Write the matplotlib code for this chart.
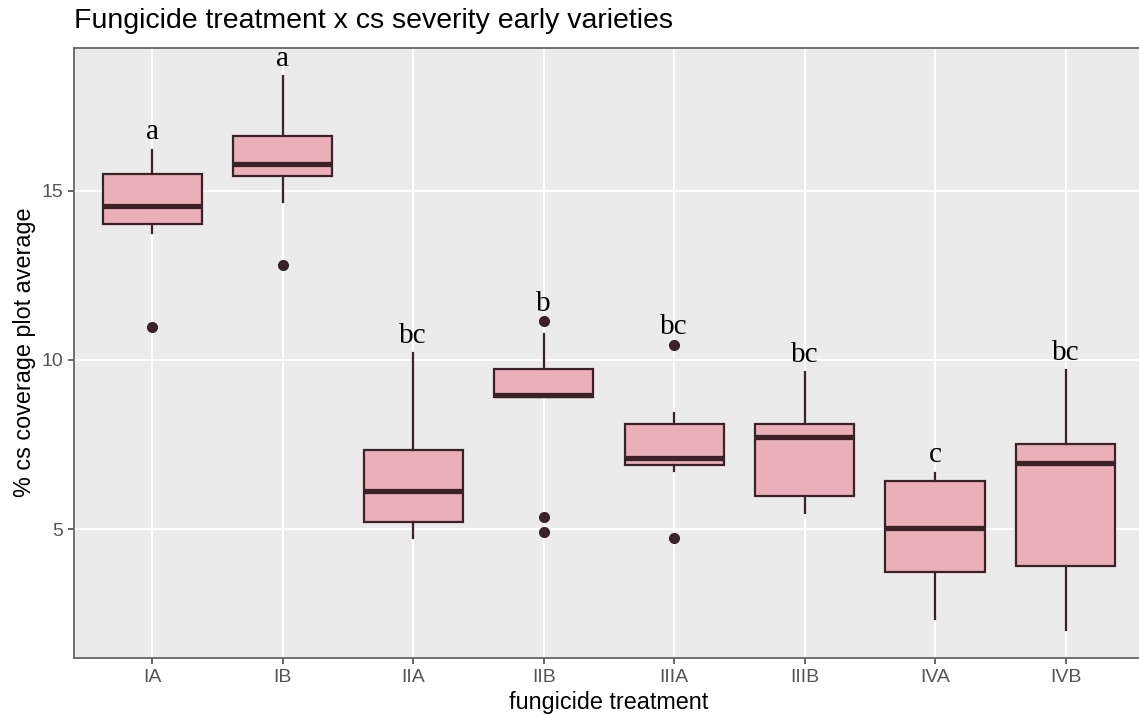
import matplotlib
matplotlib.use("Agg")
import matplotlib.pyplot as plt

# treatment groups and box statistics
treatments = ["IA", "IB", "IIA", "IIB", "IIIA", "IIIB", "IVA", "IVB"]
whisker_low = [13.76, 14.65, 4.74, 8.90, 6.71, 5.46, 2.35, 2.02]
q1 = [14.01, 15.42, 5.20, 8.90, 6.89, 5.99, 3.72, 3.91]
medians = [14.55, 15.79, 6.12, 8.97, 7.09, 7.71, 5.02, 6.94]
q3 = [15.50, 16.62, 7.33, 9.72, 8.10, 8.09, 6.42, 7.50]
whisker_high = [16.21, 18.39, 10.21, 10.75, 8.43, 9.64, 6.67, 9.69]
outliers = [[10.97], [12.81], [], [11.14, 5.35, 4.92], [10.45, 4.75], [], [], []]
letters = ["a", "a", "bc", "b", "bc", "bc", "c", "bc"]

FILL = "#EBAFBA"
EDGE = "#3A2228"

W, H = 1139, 718
fig = plt.figure(figsize=(W / 100, H / 100), dpi=100)
ax = fig.add_axes([74 / W, (H - 657.7) / H, (1143.8 - 74) / W, (657.7 - 47.7) / H])
ax.set_facecolor("#EBEBEB")

stats = []
for i in range(len(treatments)):
    stats.append({
        "whislo": whisker_low[i], "q1": q1[i], "med": medians[i],
        "q3": q3[i], "whishi": whisker_high[i], "fliers": outliers[i],
    })

positions = list(range(1, len(treatments) + 1))
ax.bxp(
    stats, positions=positions, widths=0.76, patch_artist=True, showcaps=False,
    boxprops=dict(facecolor=FILL, edgecolor=EDGE, linewidth=1.6),
    medianprops=dict(color=EDGE, linewidth=3.8, solid_capstyle="butt"),
    whiskerprops=dict(color=EDGE, linewidth=1.6),
    flierprops=dict(marker="o", markerfacecolor=EDGE, markeredgecolor=EDGE, markersize=7),
    zorder=3,
)

for pos, st, lab in zip(positions, stats, letters):
    top = max([st["whishi"]] + st["fliers"])
    ax.text(pos, top + 0.3, lab, ha="center", va="baseline",
            fontsize=21, family="Liberation Serif", color="black", zorder=4)

ax.set_xlim(0.4, 8.6)
ax.set_ylim(1.20, 19.22)
ax.set_yticks([5, 10, 15])
ax.set_xticks(positions)
ax.set_xticklabels(treatments)
ax.grid(True, color="white", linewidth=1.5, zorder=0)
ax.set_axisbelow(True)
for side in ["left", "bottom", "top"]:
    ax.spines[side].set_color("#666666")
    ax.spines[side].set_linewidth(1.3)
ax.spines["right"].set_visible(False)
ax.tick_params(colors="#4D4D4D", labelsize=14, length=4, width=1.2, pad=4)
for lab in ax.get_xticklabels() + ax.get_yticklabels():
    lab.set_family("Liberation Sans")
    lab.set_color("#555555")

ax.set_xlabel("fungicide treatment", fontsize=16.8, family="Liberation Sans", labelpad=4)
ax.set_ylabel("% cs coverage plot average", fontsize=16.8, family="Liberation Sans", labelpad=4)
fig.text(74 / W, (H - 28.3) / H, "Fungicide treatment x cs severity early varieties",
         fontsize=20.5, family="Liberation Sans", ha="left", va="baseline")

fig.savefig("out.png", dpi=100)
